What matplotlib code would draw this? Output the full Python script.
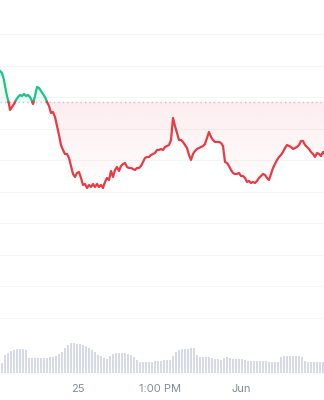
import matplotlib
matplotlib.use("Agg")
import matplotlib.pyplot as plt
import numpy as np
from matplotlib.path import Path
from matplotlib.colors import LinearSegmentedColormap

# price line (time position, price in chart units)
t = [0, 2, 4, 5, 7, 9, 10,
     12, 14, 16, 18, 20, 22, 24, 26, 28, 30, 32, 33,
     35, 37, 39, 41, 43, 45, 47, 49, 51, 53, 55, 57, 59, 61, 63, 65, 67, 69,
     71, 73, 75, 77, 79, 81, 83, 85, 87, 89, 91, 93, 95, 97, 99, 101, 103,
     105, 107, 109, 111, 113, 115, 117, 119, 121, 123, 125, 127, 129, 131,
     133, 135, 137, 139, 141, 143, 145, 147, 149, 151, 153, 155, 157, 159,
     161, 163, 165, 167, 169, 171, 173, 175, 177, 179, 181, 183, 185, 187,
     189, 191, 193, 195, 197, 199, 201, 203, 205, 207, 209, 211, 213, 215,
     217, 219, 221, 223, 225, 227, 229, 231, 233, 235, 237, 239, 241, 243,
     245, 247, 249, 251, 253, 255, 257, 259, 261, 263, 265, 267, 269, 271,
     273, 275, 277, 279, 281, 283, 285, 287, 289, 291, 293, 295, 297, 299,
     301, 303, 305, 307, 309, 311, 313, 315, 317, 319, 321, 323, 324]
price = [329, 327, 320, 314, 304, 296, 290,
         293, 296, 300, 303, 305, 304, 306, 304, 305, 303, 299, 296,
         304, 313, 312, 309, 306, 303, 298, 294, 287, 288, 283, 274, 265, 255, 250, 246, 246, 242,
         234, 226, 223, 227, 228, 222, 215, 216, 212, 215, 213, 216, 213, 216, 213, 215, 212,
         218, 222, 220, 229, 223, 230, 233, 229, 234, 236, 237, 233, 232, 232,
         231, 230, 232, 232, 234, 238, 242, 243, 243, 245, 246, 247, 250, 250,
         251, 250, 253, 254, 255, 260, 282, 274, 267, 260, 260, 258, 255, 252,
         245, 240, 246, 249, 251, 252, 253, 254, 256, 262, 268, 263, 260, 258,
         258, 258, 257, 254, 238, 237, 234, 230, 227, 226, 226, 227, 224, 224,
         222, 218, 219, 217, 218, 217, 219, 222, 224, 226, 225, 222, 220, 226,
         232, 236, 240, 243, 245, 248, 252, 255, 254, 253, 251, 252, 253, 255,
         259, 259, 255, 253, 251, 248, 246, 243, 247, 246, 244, 248, 247]
base_price = 298

# volume bars
volume = [10, 18, 20, 22, 23, 24, 24, 24, 23, 15, 15, 15, 15, 15, 15, 15, 16, 16,
          17, 19, 21, 25, 28, 30, 30, 29, 29, 28, 27, 25, 23, 21, 18, 17, 15, 14,
          17, 19, 20, 20, 20, 20, 19, 18, 16, 13, 11, 11, 11, 11, 11, 12, 12, 12,
          13, 13, 13, 17, 21, 23, 24, 24, 24, 25, 25, 18, 16, 16, 16, 16, 15, 14,
          14, 13, 15, 16, 15, 14, 14, 14, 14, 13, 12, 12, 12, 12, 12, 12, 12, 11,
          11, 11, 11, 16, 17, 17, 17, 17, 17, 17, 16, 12, 11, 11, 11, 11, 11, 11]

tick_pos = [78, 160, 241]
tick_labels = ["25", "1:00 PM", "Jun"]

GREEN = "#16c784"
RED = "#ea3943"

t = np.array(t, dtype=float)
p = np.array(price, dtype=float)

# add crossing points so the line can switch colour exactly at the baseline
tt, pp = [t[0]], [p[0]]
for i in range(1, len(t)):
    a, b = p[i - 1] - base_price, p[i] - base_price
    if a * b < 0:
        x = t[i - 1] + (t[i] - t[i - 1]) * a / (a - b)
        tt.append(x)
        pp.append(base_price)
    tt.append(t[i])
    pp.append(p[i])
tt, pp = np.array(tt), np.array(pp)

fig = plt.figure(figsize=(3.24, 4.0), dpi=100)
ax = fig.add_axes([0, 0, 1, 1])
ax.set_xlim(0, 324)
ax.set_ylim(0, 400)
ax.axis("off")

# faint horizontal grid
for g in [366, 334.5, 303, 271.5, 240, 208.5, 177, 145.5, 114, 82.5]:
    ax.axhline(g, color="#f4f5f7", lw=0.8, zorder=0)

# gradient fills between line and baseline
def gradient_fill(mask, color, top_alpha, bottom_alpha, lo, hi):
    poly = ax.fill_between(tt, pp, base_price, where=mask, interpolate=True,
                           color="none", lw=0)
    paths = poly.get_paths()
    if not paths:
        return
    clip = Path.make_compound_path(*paths)
    cmap = LinearSegmentedColormap.from_list(
        "g", [(*matplotlib.colors.to_rgb(color), bottom_alpha),
              (*matplotlib.colors.to_rgb(color), top_alpha)])
    grad = np.linspace(0, 1, 256).reshape(-1, 1)
    im = ax.imshow(grad, extent=[0, 324, lo, hi], origin="lower", cmap=cmap,
                   aspect="auto", zorder=1)
    im.set_clip_path(clip, transform=ax.transData)

gradient_fill(pp <= base_price, RED, 0.09, 0.0, 205, base_price)
gradient_fill(pp >= base_price, GREEN, 0.0, 0.08, base_price, 340)

ax.axhline(base_price, color="#c0c5cf", lw=1, ls=(0, (1, 2.2)), zorder=2)

green_y = np.where(pp >= base_price, pp, np.nan)
red_y = np.where(pp <= base_price, pp, np.nan)
ax.plot(tt, green_y, color=GREEN, lw=1.6, zorder=3, solid_joinstyle="round")
ax.plot(tt, red_y, color=RED, lw=1.6, zorder=3, solid_joinstyle="round")

# volume
axv = fig.add_axes([0, 27 / 400, 1, 40 / 400])
axv.set_xlim(0, 324)
axv.set_ylim(0, 40)
xv = 1.5 + 3 * np.arange(len(volume))
axv.bar(xv, volume, width=2.0, color="#d6dae4", lw=0)
for s in axv.spines.values():
    s.set_visible(False)
axv.set_yticks([])
axv.set_xticks(tick_pos)
axv.set_xticklabels(tick_labels, family=["Inter", "DejaVu Sans"], fontsize=8,
                    color="#858b96")
axv.tick_params(axis="x", length=0, pad=8)
axv.patch.set_alpha(0)

fig.savefig("out.png", dpi=100)
